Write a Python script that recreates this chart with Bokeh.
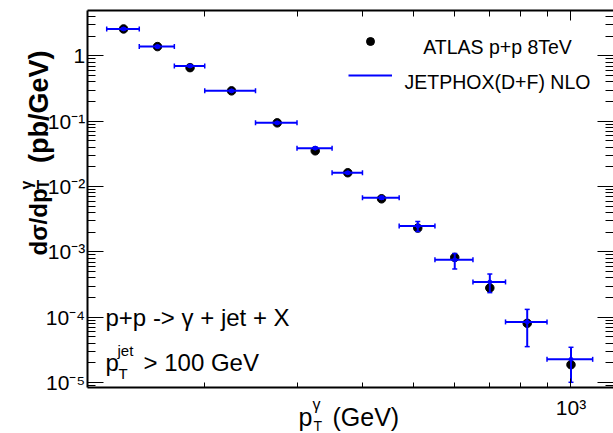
from bokeh.plotting import figure
from bokeh.models import (Range1d, FixedTicker, LogAxis, CustomJSTickFormatter, Label,
                          ColumnDataSource, Legend, LegendItem)
from bokeh.embed import file_html
from bokeh.resources import INLINE
import math

# ---------------- data ----------------
bin_lo = [130, 150, 175, 200, 250, 300, 350, 400, 470, 550, 650, 750, 900]
bin_hi = [150, 175, 200, 250, 300, 350, 400, 470, 550, 650, 750, 900, 1100]
pt = [140, 162.5, 187.5, 225, 275, 325, 375, 435, 510, 600, 700, 825, 1000]
atlas = [2.59, 1.39, 0.662, 0.292, 0.0946, 0.0353, 0.0163, 0.0065, 0.00232,
         8.24e-4, 2.81e-4, 8.07e-5, 1.88e-5]
jetphox = [2.59, 1.39, 0.703, 0.292, 0.0946, 0.0388, 0.0163, 0.00674, 0.00249,
           7.6e-4, 3.47e-4, 8.48e-5, 2.27e-5]
jetphox_lo = [2.50, 1.34, 0.68, 0.282, 0.0915, 0.0375, 0.0157, 0.0064, 2.06e-3,
              5.48e-4, 2.38e-4, 3.55e-5, 1.01e-5]
jetphox_hi = [2.68, 1.44, 0.726, 0.302, 0.0978, 0.0402, 0.0169, 0.0071, 2.93e-3,
              9.48e-4, 4.59e-4, 1.32e-4, 3.47e-5]

y_major = [1e-5, 1e-4, 1e-3, 1e-2, 1e-1, 1]
y_minor = [9e-6] + [k * 10.0 ** e for e in range(-5, 0) for k in range(2, 10)] + [2, 3, 4]
x_major = [1000]
x_minor = [200, 300, 400, 500, 600, 700, 800, 900]

# plotted box (axis frame) and the full canvas extent in data units
X_BOX = (119.3, 1204.0)
Y_BOX = (8.4e-6, 4.96)
X_CANVAS = (81.52, 1205.4)
Y_CANVAS = (1.6617e-6, 7.058)

BLUE = "#0000ff"
FONT = "Liberation Sans"
H = 433

p = figure(width=613, height=H, x_axis_type="log", y_axis_type="log",
           x_range=Range1d(*X_CANVAS), y_range=Range1d(*Y_CANVAS),
           output_backend="svg", toolbar_location=None,
           min_border_left=0, min_border_right=0, min_border_top=0, min_border_bottom=0)
p.outline_line_color = None
p.grid.visible = False
p.background_fill_color = "white"
p.border_fill_color = "white"

fmt_code = """
const sup = {"-":"\\u207b","0":"\\u2070","1":"\\u00b9","2":"\\u00b2","3":"\\u00b3","4":"\\u2074",
             "5":"\\u2075","6":"\\u2076","7":"\\u2077","8":"\\u2078","9":"\\u2079"};
const e = Math.round(Math.log10(tick));
if (e === 0) return "1";
return "10" + String(e).split("").map(c => sup[c]).join("");
"""

def style_axis(ax, major_in, minor_in, show_labels, line=True):
    ax.major_tick_in = major_in
    ax.major_tick_out = 0
    ax.minor_tick_in = minor_in
    ax.minor_tick_out = 0
    ax.major_tick_line_color = "black"
    ax.minor_tick_line_color = "black"
    ax.major_tick_line_width = 1
    ax.minor_tick_line_width = 1
    ax.axis_line_width = 2
    ax.axis_line_color = "black" if line else None
    ax.axis_label = None
    if show_labels:
        ax.formatter = CustomJSTickFormatter(code=fmt_code)
        ax.major_label_text_font = FONT
        ax.major_label_text_font_size = "21px"
        ax.major_label_text_color = "black"
    else:
        ax.major_label_text_font_size = "0px"
        ax.major_label_standoff = 0
        ax.formatter = CustomJSTickFormatter(code="return '';")

# bottom
xax = p.xaxis[0]
xax.ticker = FixedTicker(ticks=x_major, minor_ticks=x_minor)
xax.fixed_location = Y_BOX[0]
xax.bounds = X_BOX
style_axis(xax, 9, 5, True)
xax.major_label_standoff = 8
# left
yax = p.yaxis[0]
yax.ticker = FixedTicker(ticks=y_major, minor_ticks=y_minor)
yax.fixed_location = X_BOX[0]
yax.bounds = Y_BOX
style_axis(yax, 16, 8, True)
yax.major_label_standoff = 2
# top
tax = LogAxis(ticker=FixedTicker(ticks=x_major, minor_ticks=x_minor),
              fixed_location=Y_BOX[1], bounds=X_BOX)
style_axis(tax, 10, 6, False)
p.add_layout(tax, "above")
# right
rax = LogAxis(ticker=FixedTicker(ticks=y_major, minor_ticks=y_minor),
              fixed_location=X_BOX[1], bounds=Y_BOX)
style_axis(rax, 16, 8, False, line=False)
p.add_layout(rax, "right")

# ---------------- marks ----------------
src = ColumnDataSource(dict(pt=pt, lo=bin_lo, hi=bin_hi, atlas=atlas, jet=jetphox,
                            jlo=jetphox_lo, jhi=jetphox_hi))

dots = p.scatter("pt", "atlas", source=src, size=8.5, color="black", marker="circle")
hbar = p.segment(x0="lo", y0="jet", x1="hi", y1="jet", source=src, line_color=BLUE, line_width=2)
p.segment(x0="pt", y0="jlo", x1="pt", y1="jhi", source=src, line_color=BLUE, line_width=2)
p.scatter("lo", "jet", source=src, marker="dash", angle=math.pi / 2, size=5, line_color=BLUE, line_width=1.5)
p.scatter("hi", "jet", source=src, marker="dash", angle=math.pi / 2, size=5, line_color=BLUE, line_width=1.5)
p.scatter("pt", "jlo", source=src, marker="dash", size=5, line_color=BLUE, line_width=1.5)
p.scatter("pt", "jhi", source=src, marker="dash", size=5, line_color=BLUE, line_width=1.5)
p.scatter("pt", "jet", source=src, marker="circle", size=4, color=BLUE)

# ---------------- legend (glyphs) ----------------
legend = Legend(items=[LegendItem(label=" ", renderers=[dots]),
                       LegendItem(label=" ", renderers=[hbar])],
                location=(348, H - 84.7), glyph_width=44, glyph_height=20, spacing=14,
                padding=0, margin=0, border_line_color=None, background_fill_alpha=0,
                label_text_font_size="8px", label_standoff=0, label_width=1)
p.add_layout(legend, "center")

# texts: positions given in canvas pixels from the top-left corner
def lab(text, X, Y, size, align="left", angle=0, bold=False):
    p.add_layout(Label(x=X, y=H - Y, x_units="screen", y_units="screen", text=text,
                       text_font=FONT, text_font_size=f"{size}px", text_align=align,
                       text_baseline="alphabetic", text_color="black", angle=angle,
                       text_font_style="bold" if bold else "normal"))

# legend texts (centred)
lab("ATLAS p+p 8TeV", 497, 46.7, 19.5, align="center")
lab("JETPHOX(D+F) NLO", 497, 81.7, 19.5, align="center")

# annotations
lab("p+p -> \u03b3 + jet + X", 105, 317, 24)
lab("p", 105, 362, 24)
lab("jet", 117, 350, 15)
lab("T", 118, 373, 15)
lab("> 100 GeV", 143, 362, 24)

# x title
lab("p", 298, 416, 25)
lab("\u03b3", 312, 404, 16)
lab("T", 313, 425, 14)
lab("(GeV)", 332, 416, 25)

# y title (rotated)
A = math.pi / 2
lab("d\u03c3/dp", 38, 255, 24, angle=A, bold=True)
lab("T", 43, 189, 16, angle=A, bold=True)
lab("\u03b3", 26, 189, 16, angle=A, bold=True)
lab("(pb/GeV)", 38, 50, 27, align="right", angle=A, bold=True)

open("out.html", "w").write(file_html(p, INLINE))
